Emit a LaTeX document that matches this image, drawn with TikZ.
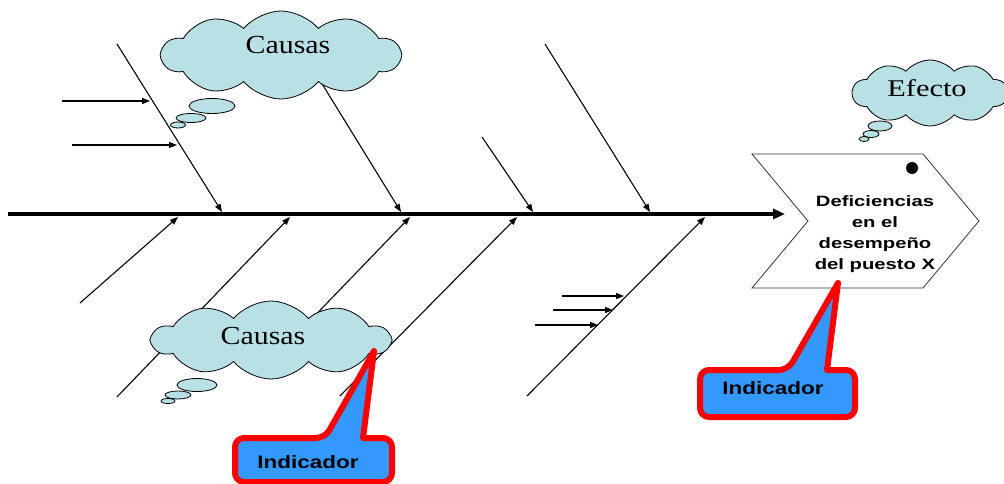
\documentclass[tikz,border=0pt]{standalone}
\usepackage{fontspec}
\setmainfont{Liberation Serif}
\setsansfont{Liberation Sans}
\usetikzlibrary{arrows.meta,shapes.symbols}
\definecolor{nubeazul}{RGB}{185,224,228}
\definecolor{indazul}{RGB}{51,153,255}
\tikzset{
  espina/.style={line width=4pt,-{Triangle[length=12pt,width=10pt]}},
  hueso/.style={line width=1.1pt,-{Triangle[length=8pt,width=6pt]}},
  nube/.style={cloud,cloud puffs=10,cloud puff arc=100,cloud ignores aspect,
    draw,line width=0.8pt,fill=nubeazul,inner sep=0pt},
  burbuja/.style={draw,line width=0.8pt,fill=nubeazul},
  txtnube/.style={font=\fontsize{26}{30}\selectfont,xscale=1.15},
  indicador/.style={draw=red,line width=6pt,fill=indazul,line join=round},
  txtind/.style={font=\sffamily\bfseries\fontsize{18}{20}\selectfont,xscale=1.25},
}
\begin{document}
\begin{tikzpicture}[x=1pt,y=-1pt]
  \useasboundingbox (0,0) rectangle (1004,484);
  % puntos de la espina
  \coordinate (cola) at (8,214);
  \coordinate (cabeza) at (785,214);
  \coordinate (a1) at (117,44);  \coordinate (b1) at (222,212);
  \coordinate (a2) at (300,48);  \coordinate (b2) at (401,212);
  \coordinate (a3) at (482,137); \coordinate (b3) at (533,212);
  \coordinate (a4) at (545,44);  \coordinate (b4) at (650,212);
  \coordinate (c1) at (80,303);  \coordinate (d1) at (178,217);
  \coordinate (c2) at (117,397); \coordinate (d2) at (290,217);
  \coordinate (c3) at (301,330); \coordinate (d3) at (410,217);
  \coordinate (c4) at (340,396); \coordinate (d4) at (517,217);
  \coordinate (c5) at (527,396); \coordinate (d5) at (705,217);
  \coordinate (e1) at (62,101);  \coordinate (f1) at (150,101);
  \coordinate (e2) at (72,145);  \coordinate (f2) at (177,145);
  \coordinate (e3) at (562,296); \coordinate (f3) at (624,296);
  \coordinate (e4) at (553,310); \coordinate (f4) at (613,310);
  \coordinate (e5) at (535,325); \coordinate (f5) at (598,325);
  \draw[espina] (cola) -- (cabeza);
  \begin{scope}[hueso]
    \draw (a1) -- (b1);
    \draw (a2) -- (b2);
    \draw (a3) -- (b3);
    \draw (a4) -- (b4);
    \draw (c1) -- (d1);
    \draw (c2) -- (d2);
    \draw (c3) -- (d3);
    \draw (c4) -- (d4);
    \draw (c5) -- (d5);
    \draw (e1) -- (f1);
    \draw (e2) -- (f2);
    \draw (e3) -- (f3);
    \draw (e4) -- (f4);
    \draw (e5) -- (f5);
  \end{scope}
  % nubes
  \node[nube,minimum width=238,minimum height=88] (nubeA) at (281,55) {};
  \node[nube,minimum width=237,minimum height=78] (nubeB) at (271,340) {};
  \node[nube,minimum width=155,minimum height=66] (nubeC) at (930,93) {};
  \draw[burbuja] (212,106) ellipse (23 and 7.5);
  \draw[burbuja] (191,118) ellipse (15 and 4.5);
  \draw[burbuja] (178,125) ellipse (7.5 and 3);
  \draw[burbuja] (197,385) ellipse (20 and 6.5);
  \draw[burbuja] (178,395) ellipse (13 and 4);
  \draw[burbuja] (168,401) ellipse (7 and 2.5);
  \draw[burbuja] (880,126) ellipse (12 and 5);
  \draw[burbuja] (871,134) ellipse (8 and 3.5);
  \draw[burbuja] (864,139) ellipse (5 and 2.5);
  \node[txtnube] (causasA) at (288,45) {Causas};
  \node[txtnube] (causasB) at (263,336) {Causas};
  \node[txtnube,font=\fontsize{24}{28}\selectfont,xscale=1.1] (efecto) at (927,88) {Efecto};
  % cabeza del pescado
  \draw[line width=0.8pt,draw=black!80,fill=white]
    (752,154) -- (923,154) -- (979,221) -- (923,288) -- (752,288) -- (808,221) -- cycle;
  \fill (912,168) circle (6);
  \node[font=\sffamily\bfseries\fontsize{15}{21}\selectfont,align=center,xscale=1.35]
    (problema) at (875,234) {Deficiencias\\en el\\desempeño\\del puesto X};
  % indicadores
  \draw[indicador] (700,393) [rounded corners=9] -- (700,370) -- (788,370) [sharp corners]
    -- (838,283) -- (827,370) [rounded corners=9] -- (855,370) -- (855,417) -- (700,417) -- cycle;
  \draw[indicador] (235,460) [rounded corners=9] -- (235,438) -- (325,438) [sharp corners]
    -- (374,351) -- (363,438) [rounded corners=9] -- (392,438) -- (392,482) -- (235,482) -- cycle;
  \node[txtind] (indA) at (773,388) {Indicador};
  \node[txtind] (indB) at (308,462) {Indicador};
\end{tikzpicture}
\end{document}
